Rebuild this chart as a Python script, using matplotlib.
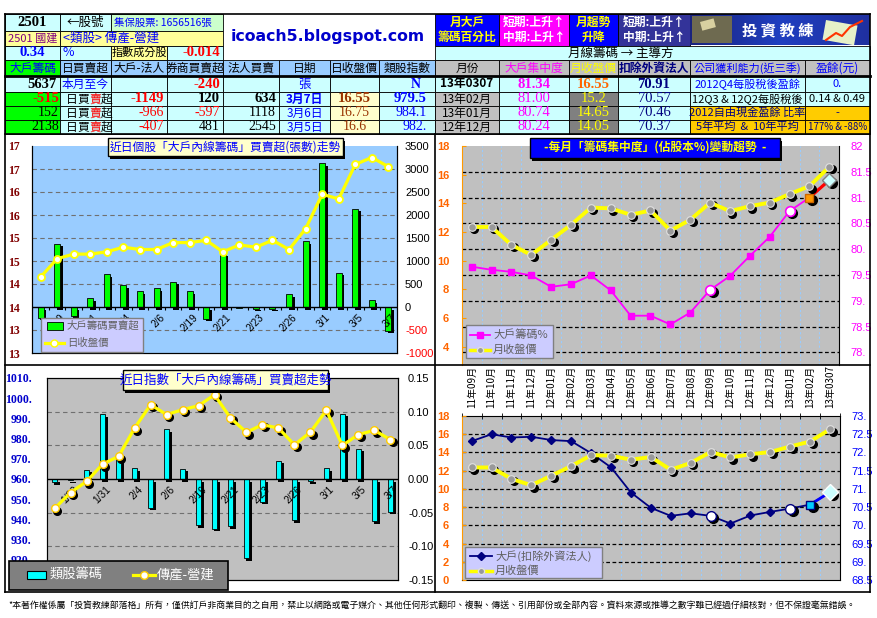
import numpy as np
import matplotlib
matplotlib.use("Agg")
import matplotlib.pyplot as plt
from matplotlib.patches import Rectangle
from matplotlib import transforms

plt.rcParams['font.family'] = ['Noto Sans CJK TC', 'DejaVu Sans']
CJK = ['Noto Sans CJK TC', 'DejaVu Sans']
SERIF = ['Liberation Serif', 'DejaVu Serif']
SANS = ['Liberation Sans', 'DejaVu Sans']

W, H = 878, 618

# ---- daily data (last 22 trading days) ----
days = ['1/28', '1/29', '1/30', '1/31', '2/1', '2/4', '2/5', '2/6', '2/18', '2/19', '2/20',
        '2/21', '2/22', '2/23', '2/25', '2/26', '2/27', '3/1', '3/4', '3/5', '3/6', '3/7']
big_net = [-230, 1370, -190, 195, 715, 470, 345, 410, 545, 345, -255,
           1160, -20, -35, -35, 280, 1425, 3122, 740, 2138, 152, -515]
close_daily = [14.15, 14.55, 14.65, 14.65, 14.7, 14.8, 14.75, 14.75, 14.9, 14.9, 14.95,
               14.7, 14.85, 14.8, 14.95, 14.75, 15.2, 15.95, 15.85, 16.6, 16.75, 16.55]
sector_net = [-0.005, -0.002, 0.014, 0.096, 0.031, 0.016, -0.043, 0.074, 0.015, -0.069, -0.074,
              -0.070, -0.118, -0.034, 0.027, -0.061, -0.003, 0.016, 0.097, 0.045, -0.063, -0.049]
sector_index = [945.5, 953.3, 958.8, 967.4, 971.2, 985.2, 996.8, 991.9, 994.3, 996.3, 1001.7,
                990.2, 983.1, 986.9, 985.2, 976.9, 983.2, 994.0, 976.6, 982.0, 984.1, 979.5]

# ---- monthly data ----
months = ['11年09月', '11年10月', '11年11月', '11年12月', '12年01月', '12年02月', '12年03月',
          '12年04月', '12年05月', '12年06月', '12年07月', '12年08月', '12年09月', '12年10月',
          '12年11月', '12年12月', '13年01月', '13年02月', '13年0307']
big_pct = [79.66, 79.60, 79.56, 79.49, 79.27, 79.32, 79.49, 79.20, 78.71, 78.71, 78.54,
           78.77, 79.21, 79.48, 79.87, 80.24, 80.74, 81.00, 81.34]
close_monthly = [12.35, 12.35, 11.1, 10.4, 11.45, 12.5, 13.7, 13.65, 13.2, 13.5, 12.1,
                 12.85, 14.05, 13.45, 13.8, 14.05, 14.65, 15.2, 16.55]
big_ex_foreign = [72.31, 72.50, 72.41, 72.43, 72.34, 72.31, 71.98, 71.59, 70.90, 70.48, 70.26,
                  70.33, 70.26, 70.05, 70.27, 70.37, 70.46, 70.57, 70.91]

# ---- header table ----
hdr_left = ['大戶籌碼', '日買賣超', '大戶-法人', '券商買賣超', '法人買賣', '日期', '日收盤價', '類股指數']
big_inst = [-1149, -966, -407]
broker = [120, -597, 481]
inst = [634, 1118, 2545]
row_dates = ['3月7日', '3月6日', '3月5日']
hdr_right = ['月份', '大戶集中度', '月收盤價', '扣除外資法人', '公司獲利能力(近三季)', '盈餘(元)']
month_rows = ['13年0307', '13年02月', '13年01月', '12年12月']
footer = ('*本著作權係屬「投資教練部落格」所有，僅供訂戶非商業目的之自用，禁止以網路或電子媒介、'
          '其他任何形式翻印、複製、傳送、引用部份或全部內容。資料來源或推導之數字雖已經過仔細核對，但不保證毫無錯誤。')

fig = plt.figure(figsize=(W / 100, H / 100), dpi=100)
bg = fig.add_axes([0, 0, 1, 1], zorder=0)
bg.axis('off')
ov = fig.add_axes([0, 0, 1, 1], zorder=20)
ov.axis('off')


def panel(x0, y0, x1, y1, z=2):
    a = fig.add_axes([x0 / W, 1 - y1 / H, (x1 - x0) / W, (y1 - y0) / H], zorder=z)
    b = a.twinx()
    a.yaxis.tick_right()
    b.yaxis.tick_left()
    return a, b


def cell(x0, y0, x1, y1, fc, s='', color='black', ha='center', size=9, weight='normal',
         family=None, pad=3):
    bg.add_patch(Rectangle((x0, y0), x1 - x0, y1 - y0, fc=fc, ec='black', lw=0.6))
    if s != '':
        tx = {'center': (x0 + x1) / 2, 'left': x0 + pad, 'right': x1 - pad}[ha]
        bg.text(tx, (y0 + y1) / 2, s, ha=ha, va='center', color=color, fontsize=size,
                fontweight=weight, family=family or CJK)


# left header
cols = [5, 60, 111, 167, 223, 279, 330, 379, 435]
rows = [14, 31, 46, 60, 76, 92, 106, 120, 134]
cell(5, 14, 60, 31, '#ccffff', '2501', weight='bold', family=SERIF, size=10.5)
cell(60, 14, 111, 31, '#ccffff', '←股號', size=9)
cell(111, 14, 223, 31, '#ccffcc', '集保股票: 1656516張', color='#0000ff', ha='left', size=7.5)
cell(5, 31, 60, 46, '#ffff99', '2501 國建', color='#800080', size=8)
cell(60, 31, 223, 46, '#ffff99', '<類股> 傳產-營建', color='#0000ff', ha='left', size=9)
cell(5, 46, 60, 60, '#ccffff', '0.34', color='#0000ff', weight='bold', family=SERIF, size=10.5)
cell(60, 46, 111, 60, '#ccffff', '%', color='#0000ff', ha='left', size=9)
cell(111, 46, 167, 60, '#ffff99', '指數成分股', size=8)
cell(167, 46, 223, 60, '#ccffff', '-0.014', color='red', ha='right', weight='bold', family=SERIF, size=10.5)
bg.text(328, 37, 'icoach5.blogspot.com', ha='center', va='center', color='#0000cc',
        fontsize=11.3, fontweight='bold', family=['DejaVu Sans'])
for j, name in enumerate(hdr_left):
    fc = '#00ff00' if j == 0 else '#99ccff'
    cell(cols[j], 60, cols[j + 1], 76, fc, name, color='#0000ff' if j == 0 else 'black', size=8.5)
# month-to-date row
cell(5, 76, 60, 92, '#ccffff', str(sum(big_net[-5:])), ha='right', weight='bold', family=SERIF, size=10.5)
cell(60, 76, 111, 92, '#ccffff', '本月至今', color='#0000ff', size=8.5)
cell(111, 76, 167, 92, '#ccffff')
cell(167, 76, 223, 92, '#ccffff', '-240', color='red', ha='right', weight='bold', family=SERIF, size=10.5)
cell(223, 76, 279, 92, '#ccffff')
cell(279, 76, 330, 92, '#ccffff', '張', color='#0000ff', size=9)
cell(330, 76, 379, 92, '#ccffff')
cell(379, 76, 435, 92, '#ccffff', 'N', color='#0000ff', ha='right', family=SERIF, weight='bold', size=10, pad=14)
for r in range(3):
    y0, y1 = rows[5 + r], rows[6 + r]
    k = -1 - r
    bold = 'bold' if r == 0 else 'normal'
    sz = 10.5 if r == 0 else 10
    cell(5, y0, 60, y1, '#00ff00', str(big_net[k]), color='red' if big_net[k] < 0 else 'black',
         ha='right', weight=bold, family=SERIF, size=sz, pad=1)
    cell(60, y0, 111, y1, '#ccffff')
    for c, ch in enumerate('日買賣超'):
        bg.text(66 + 11.5 * c, (y0 + y1) / 2, ch, ha='left', va='center', fontsize=8.5,
                color='red' if ch == '賣' else 'black')
    cell(111, y0, 167, y1, '#ccffff', str(big_inst[r]), color='red' if big_inst[r] < 0 else 'black',
         ha='right', weight=bold, family=SERIF, size=sz)
    cell(167, y0, 223, y1, '#ccffff', str(broker[r]), color='red' if broker[r] < 0 else 'black',
         ha='right', weight=bold, family=SERIF, size=sz)
    cell(223, y0, 279, y1, '#ccffff', str(inst[r]), ha='right', weight=bold, family=SERIF, size=sz)
    cell(279, y0, 330, y1, '#ccffff', row_dates[r], color='#0000ff', weight=bold, size=8.5)
    cell(330, y0, 379, y1, '#ffffcc', f'{close_daily[k]:g}', color='#993300', weight=bold, family=SERIF, size=sz)
    cell(379, y0, 435, y1, '#ccffff', f'{sector_index[k]:.1f}'.rstrip('0'), color='#0000ff',
         ha='right', weight=bold, family=SERIF, size=sz, pad=8)

# right header
rc = [435, 499, 569, 618, 690, 805, 870]
cell(435, 14, 499, 46, '#0000ff', '月大戶\n籌碼百分比', color='#ffff00', weight='bold', size=8.5)
cell(499, 14, 569, 46, '#ff00ff', '短期:上升↑\n中期:上升↑', color='white', weight='bold', size=8.5)
cell(569, 14, 618, 46, '#0000ff', '月趨勢\n升降', color='#ffff00', weight='bold', size=8.5)
cell(618, 14, 690, 46, '#333399', '短期:上升↑\n中期:上升↑', color='white', weight='bold', size=8.5)
# logo
grad = np.linspace(0, 1, 200).reshape(1, -1)
bg.imshow(grad, extent=(690, 870, 45, 14), cmap=matplotlib.colors.LinearSegmentedColormap.from_list(
    'logo', ['#1a237e', '#1f3fc0', '#2030a0']), aspect='auto', zorder=1)
bg.add_patch(Rectangle((692, 16), 40, 27, fc='#6e6a50', ec='none', zorder=2))
bg.add_patch(Rectangle((700, 22), 14, 9, fc='#d8d0a0', ec='none', zorder=2, angle=-15))
bg.add_patch(Rectangle((826, 20), 32, 20, fc='#e6f0c8', ec='none', zorder=2, angle=10))
bg.plot([826, 836, 842, 850, 862], [40, 33, 36, 27, 21], color='#ff3300', lw=1.5, zorder=3)
bg.text(778, 30, '投 資 教 練', ha='center', va='center', color='white', fontsize=11,
        fontweight='bold', family=['Noto Sans CJK TC'], zorder=3)
cell(435, 46, 870, 60, '#ccffff')
bg.text(621, 53, '月線籌碼 → 主導方', ha='center', va='center', fontsize=9)
hdr_colors = ['black', '#ff00ff', '#ffff00', '#000080', '#0000ff', '#0000ff']
for j, name in enumerate(hdr_right):
    cell(rc[j], 60, rc[j + 1], 76, '#c0c0c0', name, color=hdr_colors[j],
         weight='bold' if j == 3 else 'normal', size=8.5 if j != 4 else 8)
right_info = [('2012Q4每股稅後盈餘', '0.', '#ccffff', '#0000ff'),
              ('12Q3 & 12Q2每股稅後', '0.14 & 0.49', '#ccffff', 'black'),
              ('2012自由現金盈餘 比率', '-', '#ffcc00', '#000080'),
              ('5年平均  &  10年平均', '177% & -88%', '#ffcc00', '#000080')]
for r in range(4):
    y0, y1 = rows[4 + r], rows[5 + r]
    k = -1 - r
    first = r == 0
    cell(435, y0, 499, y1, '#ccffff' if first else '#c0c0c0', month_rows[r],
         weight='bold' if first else 'normal', size=8.5)
    cell(499, y0, 569, y1, '#ccffff', f'{big_pct[k]:.2f}', color='#ff00ff',
         weight='bold' if first else 'normal', family=SERIF, size=10.5)
    cell(569, y0, 618, y1, '#ccffff' if first else '#808080', f'{close_monthly[k]:g}',
         color='#ff6600' if first else '#ffff00', weight='bold' if first else 'normal', family=SERIF, size=10.5)
    cell(618, y0, 690, y1, '#ccffff', f'{big_ex_foreign[k]:.2f}', color='#000080',
         weight='bold' if first else 'normal', family=SERIF, size=10.5)
    lbl, val, fc, tc = right_info[r]
    cell(690, y0, 805, y1, fc, lbl, color=tc, size=8)
    cell(805, y0, 870, y1, fc, val, color=tc, size=8 if r != 3 else 7)
bg.plot([5, 870], [76, 76], color='black', lw=2)
bg.text(8, 606, footer, ha='left', va='center', fontsize=6.4)
bg.set_xlim(0, W)
bg.set_ylim(H, 0)

# frames
for xs, ys in [([5, 5], [14, 592]), ([435, 435], [134, 592]), ([870, 870], [14, 592]),
               ([5, 870], [134, 134]), ([5, 870], [365, 365]), ([5, 870], [592, 592]),
               ([5, 870], [14, 14])]:
    ov.plot(xs, ys, color='black', lw=1.2)


def shadow(ax, dx=2.5, dy=-2.5):
    return transforms.offset_copy(ax.transData, fig=fig, x=dx, y=dy, units='dots')


def title_box(x0, y0, x1, y1, fc, s, color, weight='normal', size=8.5):
    ov.add_patch(Rectangle((x0 + 2.5, y0 + 2.5), x1 - x0, y1 - y0, fc='black', ec='none'))
    ov.add_patch(Rectangle((x0, y0), x1 - x0, y1 - y0, fc=fc, ec='black', lw=1))
    ov.text((x0 + x1) / 2, (y0 + y1) / 2, s, ha='center', va='center', color=color,
            fontsize=size, fontweight=weight)


def cat_labels(ax, labels, idx):
    for i in idx:
        ax.annotate(labels[i], (i, 0), xytext=(2, -4), textcoords='offset points', rotation=45,
                    ha='right', va='top', rotation_mode='anchor', fontsize=7.3, family=SANS,
                    zorder=6)


# ---------- top-left: stock daily ----------
x = np.arange(len(days))
ax, ax2 = panel(32.3, 146, 396.7, 353)
ax.set_facecolor('#99ccff')
rt = np.arange(-1000, 3501, 500)
for v in rt[1:-1]:
    if v != 0:
        ax.axhline(v, ls=(0, (4, 3)), color='#707070', lw=0.8, zorder=0)
ax.bar(x, big_net, width=0.36, color='black', transform=shadow(ax), zorder=2)
ax.bar(x, big_net, width=0.36, color='#00ff00', edgecolor='black', lw=0.6, zorder=3)
ax.axhline(0, color='black', lw=1, zorder=4)
ax.vlines(np.arange(-0.5, len(days)), -70, 0, color='black', lw=0.8, zorder=4)
ax.set_xlim(-0.5, len(days) - 0.5)
ax.set_ylim(-1000, 3500)
ax.set_xticks([])
ax.set_yticks(rt)
ax.set_yticklabels([str(v) for v in rt], family=SANS)
for lab, v in zip(ax.get_yticklabels(), rt):
    lab.set_color('red' if v < 0 else 'black')
ax.tick_params(axis='y', length=0, pad=6, labelsize=8)
cat_labels(ax, days, range(1, len(days), 2))
ax2.plot(x, close_daily, color='#ffff00', lw=2.3, marker='o', ms=5, mfc='white', mec='#ffff00',
         mew=1.3, zorder=5)
ax2.set_ylim(12.5, 17)
lt = np.arange(12.5, 17.01, 0.5)
ax2.set_yticks(lt)
ax2.set_yticklabels(['13', '13', '14', '14', '15', '15', '16', '16', '17', '17'],
                    family=SERIF, fontweight='bold', color='#800000')
ax2.tick_params(axis='y', length=0, pad=9, labelsize=8.5)
for a in (ax, ax2):
    for sp in a.spines.values():
        sp.set_color('black')
ax2.spines['top'].set_visible(False)
ax.spines['top'].set_visible(False)
title_box(108, 138, 343, 156, '#ffffcc', '近日個股「大戶內線籌碼」買賣超(張數)走勢', '#0000ff')
ov.add_patch(Rectangle((41, 318), 102, 34, fc='#ccccff', ec='#808080', lw=1))
ov.add_patch(Rectangle((47, 322), 16, 8, fc='#00ff00', ec='black', lw=0.6))
ov.text(67, 326, '大戶籌碼買賣超', va='center', fontsize=7.5, color='#606060')
ov.plot([45, 64], [343, 343], color='#ffff00', lw=2.3)
ov.plot([54.5], [343], marker='o', ms=5, mfc='white', mec='#ffff00')
ov.text(67, 343, '日收盤價', va='center', fontsize=7.5, color='#606060')

# ---------- top-right: monthly concentration ----------
m = np.arange(len(months))
sp = [12, 16, 17, 18]
ax, ax2 = panel(461.7, 146, 839.3, 365)
ax.set_facecolor('#c0c0c0')
for b in np.arange(0.5, len(months) - 1):
    ax.axvline(b, color='#99ccff', ls=(0, (2, 2)), lw=0.8, zorder=0)
rt = np.arange(78, 82.01, 0.5)
for v in rt[:-1]:
    ax.axhline(v, color='black', ls=(0, (3, 2)), lw=0.9, zorder=0)
ax.plot(m, big_pct, color='#ff00ff', lw=1.3, marker='s', ms=4.5, zorder=3)
ax.plot(m[-2:], big_pct[-2:], color='#ff0000', lw=2.3, zorder=3)
ax.plot(m[sp], np.array(big_pct)[sp], ls='none', marker='o', ms=7, color='black',
        transform=shadow(ax), zorder=3)
ax.plot(m[[12, 16]], np.array(big_pct)[[12, 16]], ls='none', marker='o', ms=7, mfc='white',
        mec='#ff00ff', mew=1.2, zorder=4)
ax.plot(m[17], big_pct[17], ls='none', marker='s', ms=6, mfc='#ff9900', mec='#cc6600', zorder=4)
ax.plot(m[18], big_pct[18], ls='none', marker='D', ms=7, mfc='#ccffff', mec='#808080', zorder=4)
ax.set_xlim(-0.5, len(months) - 0.5)
ax.set_ylim(77.754, 82)
ax.set_xticks([])
ax.set_yticks(rt)
ax.set_yticklabels(['78.', '78.5', '79.', '79.5', '80.', '80.5', '81.', '81.5', '82'],
                   family=SANS, color='#ff00ff')
ax.tick_params(axis='y', length=0, pad=8, labelsize=8)
ax2.plot(m, close_monthly, ls='none', marker='o', ms=5.5, color='black', transform=shadow(ax2), zorder=4)
ax2.plot(m, close_monthly, color='#ffff00', lw=2.8, marker='o', ms=5.5, mfc='#999999',
         mec='#e0e0e0', mew=0.8, zorder=5)
ax2.set_ylim(2.72, 18)
ax2.set_yticks(range(4, 19, 2))
ax2.set_yticklabels([str(v) for v in range(4, 19, 2)], family=SANS, fontweight='bold', color='#ff6600')
ax2.tick_params(axis='y', direction='in', length=3, color='#ff9900', pad=9, labelsize=8)
for a in (ax, ax2):
    for s in a.spines.values():
        s.set_visible(False)
ax.spines['left'].set_visible(True)
ax.spines['left'].set_color('#ff9900')
ax.spines['right'].set_visible(True)
ax.spines['right'].set_color('black')
title_box(530, 138, 780, 158, '#0000ff', '-每月「籌碼集中度」(佔股本%)變動趨勢  -', '#ffff00', weight='bold')
ov.add_patch(Rectangle((466, 325), 87, 33, fc='#ccccff', ec='#808080', lw=1))
ov.plot([470, 480, 490], [335, 335, 335], color='#ff00ff', lw=1.3, marker='s', ms=4.5, markevery=[1])
ov.text(493, 335, '大戶籌碼%', va='center', fontsize=8, color='#606060')
ov.plot([470, 480, 490], [350, 350, 350], color='#ffff00', lw=2.5, marker='o', ms=4.5,
        mfc='#999999', mec='#e0e0e0', markevery=[1])
ov.text(493, 350, '月收盤價', va='center', fontsize=8, color='#606060')

# ---------- bottom-left: sector daily ----------
ax, ax2 = panel(46.7, 378, 398.3, 580)
ax.set_facecolor('#c0c0c0')
rt = np.round(np.arange(-0.15, 0.151, 0.05), 2)
for v in rt[1:-1]:
    if v != 0:
        ax.axhline(v, ls=(0, (4, 3)), color='#707070', lw=0.8, zorder=0)
ax.bar(x, sector_net, width=0.34, color='black', transform=shadow(ax), zorder=2)
ax.bar(x, sector_net, width=0.34, color='#00ffff', edgecolor='black', lw=0.6, zorder=3)
ax.axhline(0, color='black', lw=1, zorder=4)
ax.set_xlim(-0.5, len(days) - 0.5)
ax.set_ylim(-0.15, 0.15)
ax.set_xticks([])
ax.set_yticks(rt)
ax.set_yticklabels([f'{v:.2f}' for v in rt], family=SANS)
ax.tick_params(axis='y', length=0, pad=7, labelsize=8)
cat_labels(ax, days, range(1, len(days), 2))
ax2.plot(x, sector_index, ls='none', marker='o', ms=5.5, color='black', transform=shadow(ax2), zorder=4)
ax2.plot(x, sector_index, color='#ffff00', lw=2.3, marker='o', ms=5.5, mfc='white', mec='#ffcc00',
         mew=1, zorder=5)
ax2.set_ylim(910, 1010)
lt = np.arange(920, 1011, 10)
ax2.set_yticks(lt)
ax2.set_yticklabels([f'{v}.' for v in lt], family=SERIF, fontweight='bold', color='#0000cc')
ax2.tick_params(axis='y', length=0, pad=11, labelsize=8.5)
for a in (ax, ax2):
    for s in a.spines.values():
        s.set_color('black')
title_box(123, 370, 328, 390, '#ffffcc', '近日指數「大戶內線籌碼」買賣超走勢', '#0000ff', size=9)
ov.add_patch(Rectangle((9, 561), 219, 29, fc='#808080', ec='black', lw=1.2))
ov.add_patch(Rectangle((27, 571), 19, 8, fc='#00ffff', ec='black', lw=0.8))
ov.text(50, 575, '類股籌碼', va='center', fontsize=9.5, color='white')
ov.plot([133, 144, 155], [575, 575, 575], color='#ffff00', lw=2.3, marker='o', ms=5.5,
        mfc='white', mec='#ffcc00', markevery=[1])
ov.text(157, 575, '傳產-營建', va='center', fontsize=9.5, color='white')

# ---------- bottom-right: big holders ex foreign ----------
ax, ax2 = panel(461.7, 416, 840, 580)
ax.set_facecolor('#c0c0c0')
for b in np.arange(0.5, len(months) - 1):
    ax.axvline(b, color='#99ccff', ls=(0, (2, 2)), lw=0.8, zorder=0)
rt = np.arange(68.5, 73.01, 0.5)
for v in rt[1:-1]:
    ax.axhline(v, color='black', ls=(0, (3, 2)), lw=0.9, zorder=0)
ax.plot(m, big_ex_foreign, color='#000080', lw=1.3, marker='D', ms=4, zorder=3)
ax.plot(m[-2:], big_ex_foreign[-2:], color='#0000ff', lw=2, zorder=3)
ax.plot(m[sp], np.array(big_ex_foreign)[sp], ls='none', marker='o', ms=7, color='black',
        transform=shadow(ax), zorder=3)
ax.plot(m[[12, 16]], np.array(big_ex_foreign)[[12, 16]], ls='none', marker='o', ms=7, mfc='white',
        mec='#000080', mew=1, zorder=4)
ax.plot(m[17], big_ex_foreign[17], ls='none', marker='s', ms=6, mfc='#00ccff', mec='#000080', zorder=4)
ax.plot(m[18], big_ex_foreign[18], ls='none', marker='D', ms=8, mfc='#ccffff', mec='#ffffff', zorder=4)
ax.set_xlim(-0.5, len(months) - 0.5)
ax.set_ylim(68.5, 73)
ax.xaxis.tick_top()
ax.set_xticks(m)
ax.set_xticklabels(months, rotation=90, fontsize=7.2)
ax.set_xticks(np.arange(-0.5, len(months)), minor=True)
ax.tick_params(axis='x', which='major', length=0, pad=6)
ax.tick_params(axis='x', which='minor', length=5, direction='inout', color='black', top=True, bottom=False)
ax.set_yticks(rt)
ax.set_yticklabels(['68.5', '69.', '69.5', '70.', '70.5', '71.', '71.5', '72.', '72.5', '73.'],
                   family=SANS, color='#0000ff')
ax.tick_params(axis='y', length=0, pad=8, labelsize=8)
ax2.plot(m, close_monthly, ls='none', marker='o', ms=5.5, color='black', transform=shadow(ax2), zorder=4)
ax2.plot(m, close_monthly, color='#ffff00', lw=2.8, marker='o', ms=5.5, mfc='#999999',
         mec='#e0e0e0', mew=0.8, zorder=5)
ax2.set_ylim(0, 18)
ax2.set_yticks(range(0, 19, 2))
ax2.set_yticklabels([str(v) for v in range(0, 19, 2)], family=SANS, fontweight='bold', color='#ff6600')
ax2.tick_params(axis='y', direction='in', length=3, color='#ff9900', pad=9, labelsize=8)
for a in (ax, ax2):
    for s in a.spines.values():
        s.set_visible(False)
ax.spines['left'].set_visible(True)
ax.spines['left'].set_color('#ff9900')
ax.spines['right'].set_visible(True)
ax.spines['bottom'].set_visible(True)
ax.spines['top'].set_visible(True)
ov.add_patch(Rectangle((465, 547), 137, 31, fc='#ccccff', ec='#808080', lw=1))
ov.plot([470, 481, 492], [556, 556, 556], color='#000080', lw=1.3, marker='D', ms=4, markevery=[1])
ov.text(495, 556, '大戶(扣除外資法人)', va='center', fontsize=8, color='#606060')
ov.plot([470, 481, 492], [571, 571, 571], color='#ffff00', lw=2.5, marker='o', ms=4.5,
        mfc='#999999', mec='#e0e0e0', markevery=[1])
ov.text(495, 571, '月收盤價', va='center', fontsize=8, color='#606060')

ov.set_xlim(0, W)
ov.set_ylim(H, 0)
fig.savefig('out.png', dpi=100)
